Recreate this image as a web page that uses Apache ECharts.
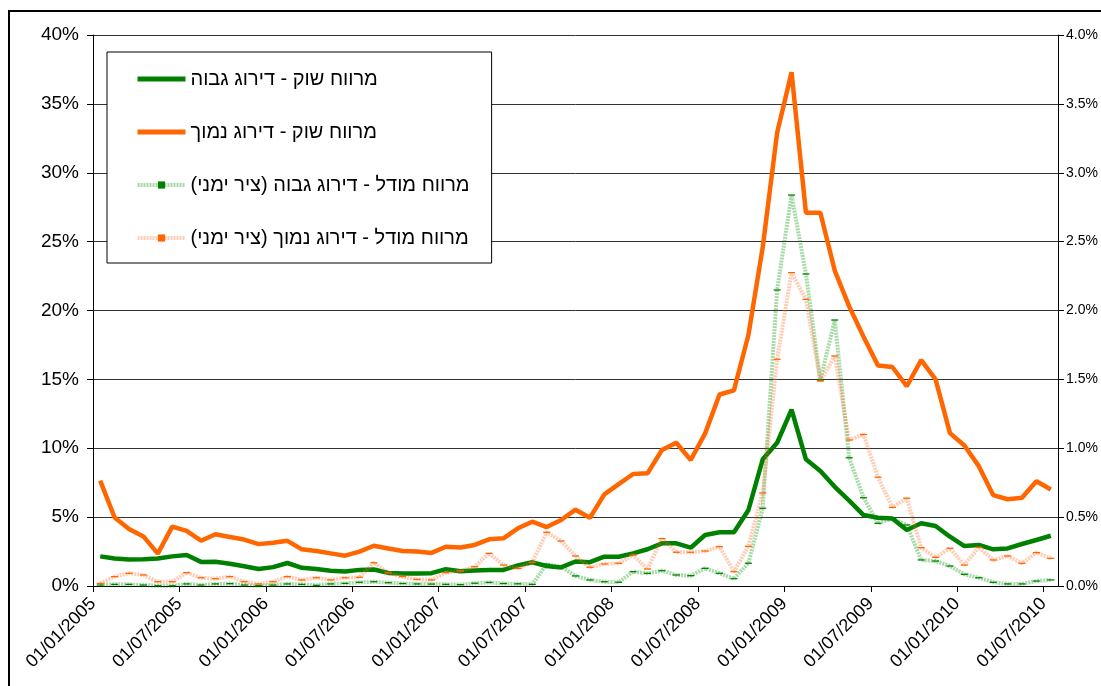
<!DOCTYPE html>
<html>
<head>
<meta charset="utf-8">
<script src="https://cdn.jsdelivr.net/npm/echarts@6/dist/echarts.min.js"></script>
<style>
  html, body { margin: 0; padding: 0; background: #fff; }
  #chart { width: 1101px; height: 686px; }
</style>
</head>
<body>
<div id="chart"></div>
<script>
// tick labels on the x axis, one every 6 months
const dateLabels = ['01/01/2005', '01/07/2005', '01/01/2006', '01/07/2006', '01/01/2007', '01/07/2007',
  '01/01/2008', '01/07/2008', '01/01/2009', '01/07/2009', '01/01/2010', '01/07/2010']

// monthly points, Jan 2005 .. Jul 2010 (values in %)
const marketHigh = [2.15, 2.0, 1.93, 1.95, 2.0, 2.15, 2.25, 1.75, 1.76, 1.62, 1.43, 1.24, 1.37, 1.67, 1.32, 1.23, 1.1, 1.05, 1.17, 1.2,
  0.95, 0.9, 0.9, 0.93, 1.22, 1.07, 1.12, 1.17, 1.17, 1.5, 1.72, 1.45, 1.35, 1.78, 1.73, 2.13, 2.12, 2.37, 2.67, 3.1,
  3.1, 2.78, 3.7, 3.9, 3.9, 5.5, 9.2, 10.4, 12.8, 9.2, 8.35, 7.2, 6.2, 5.15, 4.95, 4.9, 4.07, 4.55, 4.36, 3.58,
  2.9, 2.98, 2.66, 2.73, 3.05, 3.34, 3.65]
const marketLow = [7.65, 4.97, 4.13, 3.6, 2.35, 4.31, 4.0, 3.29, 3.76, 3.56, 3.37, 3.04, 3.14, 3.28, 2.66, 2.54, 2.37, 2.2, 2.49, 2.92,
  2.72, 2.54, 2.5, 2.4, 2.85, 2.8, 2.98, 3.39, 3.46, 4.19, 4.67, 4.28, 4.79, 5.54, 4.95, 6.65, 7.4, 8.13, 8.18, 9.87,
  10.4, 9.15, 11.08, 13.9, 14.2, 18.2, 24.6, 32.9, 37.3, 27.1, 27.1, 22.9, 20.3, 18.1, 16.0, 15.9, 14.5, 16.4, 15.0, 11.1,
  10.2, 8.7, 6.6, 6.3, 6.4, 7.6, 7.0]
// model spreads, right axis
const modelHigh = [0.007, 0.012, 0.012, 0.007, 0.002, 0.002, 0.015, 0.007, 0.015, 0.017, 0.007, 0.002, 0.007, 0.015, 0.012, 0.005, 0.015, 0.019, 0.027, 0.031,
  0.024, 0.018, 0.015, 0.014, 0.012, 0.01, 0.02, 0.026, 0.018, 0.016, 0.012, 0.158, 0.14, 0.073, 0.044, 0.031, 0.027, 0.104, 0.092, 0.111,
  0.08, 0.075, 0.128, 0.092, 0.053, 0.165, 0.564, 2.149, 2.838, 2.265, 1.495, 1.931, 0.931, 0.641, 0.455, 0.491, 0.443, 0.189, 0.181, 0.145,
  0.085, 0.06, 0.027, 0.015, 0.015, 0.036, 0.044]
const modelLow = [0.019, 0.068, 0.092, 0.08, 0.031, 0.031, 0.097, 0.06, 0.053, 0.068, 0.031, 0.015, 0.031, 0.068, 0.044, 0.06, 0.044, 0.06, 0.063, 0.169,
  0.095, 0.068, 0.048, 0.044, 0.097, 0.109, 0.14, 0.237, 0.152, 0.128, 0.172, 0.39, 0.327, 0.218, 0.136, 0.16, 0.165, 0.225, 0.123, 0.344,
  0.245, 0.245, 0.254, 0.285, 0.104, 0.288, 0.675, 1.646, 2.275, 2.081, 1.488, 1.67, 1.06, 1.1, 0.79, 0.571, 0.637, 0.278, 0.208, 0.274,
  0.152, 0.281, 0.189, 0.218, 0.165, 0.242, 0.201]

const names = [
  'מרווח שוק - דירוג גבוה',
  'מרווח שוק - דירוג נמוך',
  'מרווח מודל - דירוג גבוה (ציר ימני)\u200F',
  'מרווח מודל - דירוג נמוך (ציר ימני)\u200F',
]

const GREEN = '#008000'
const ORANGE = '#ff6600'
const FONT = '"Liberation Sans", Arial, sans-serif'
// small flat marker used on the model lines (and in their legend icons)
const MARK = 'path://M0,0 L7,0 L7,3 L0,3 Z'

// each month sits in the middle of its slot
const pts = (arr) => arr.map((v, i) => [i + 0.5, v])

const chart = echarts.init(document.getElementById('chart'))

const modelSeries = (name, data, light, dark) => ({
  name, type: 'line', yAxisIndex: 1, data: pts(data),
  symbol: MARK, symbolSize: [7, 3], symbolKeepAspect: true, showSymbol: true,
  itemStyle: { color: dark },
  lineStyle: { color: light, width: 4, type: [2, 1] },
  emphasis: { disabled: true },
})

chart.setOption({
  animation: false,
  textStyle: { fontFamily: FONT },
  grid: { left: 93, right: 43, top: 35, bottom: 100 },
  graphic: [{
    type: 'rect', shape: { x: 9, y: 11, width: 1120, height: 700 },
    style: { fill: 'none', stroke: '#000', lineWidth: 2 }, silent: true,
  }],
  legend: {
    orient: 'vertical', left: 107, top: 52,
    padding: [17, 22, 15, 28], itemGap: 33,
    itemWidth: 48, itemHeight: 9,
    backgroundColor: '#fff', borderColor: '#000', borderWidth: 1,
    textStyle: { fontSize: 20, color: '#000', fontFamily: FONT },
    data: [
      { name: names[0], itemStyle: { opacity: 0 }, lineStyle: { width: 5 } },
      { name: names[1], itemStyle: { opacity: 0 }, lineStyle: { width: 5 } },
      { name: names[2], lineStyle: { width: 4 } },
      { name: names[3], lineStyle: { width: 4 } },
    ],
  },
  xAxis: {
    type: 'value', min: 0, max: 67, interval: 6,
    axisLine: { lineStyle: { color: '#000' } },
    axisTick: { length: 6, lineStyle: { color: '#000' } },
    splitLine: { show: false },
    axisLabel: {
      rotate: 45, margin: 15, fontSize: 18, color: '#000', showMaxLabel: false,
      formatter: (v) => (v % 6 === 0 ? dateLabels[v / 6] : ''),
    },
  },
  yAxis: [
    {
      type: 'value', min: 0, max: 40, interval: 5,
      axisLine: { show: true, lineStyle: { color: '#000' } },
      axisTick: { show: true, length: 6, lineStyle: { color: '#000' } },
      splitLine: { lineStyle: { color: '#333' } },
      axisLabel: { fontSize: 19, color: '#000', margin: 14, formatter: (v) => v + '%' },
    },
    {
      type: 'value', min: 0, max: 4, interval: 0.5, position: 'right',
      axisLine: { show: true, lineStyle: { color: '#000' } },
      axisTick: { show: true, length: 6, lineStyle: { color: '#000' } },
      splitLine: { show: false },
      axisLabel: { fontSize: 14, color: '#000', margin: 8, formatter: (v) => v.toFixed(1) + '%' },
    },
  ],
  series: [
    { name: names[0], type: 'line', data: pts(marketHigh), symbol: 'none',
      lineStyle: { color: GREEN, width: 4.5 }, itemStyle: { color: GREEN }, z: 3 },
    { name: names[1], type: 'line', data: pts(marketLow), symbol: 'none',
      lineStyle: { color: ORANGE, width: 4.5 }, itemStyle: { color: ORANGE }, z: 3 },
    modelSeries(names[2], modelHigh, 'rgba(0,150,0,0.35)', GREEN),
    modelSeries(names[3], modelLow, 'rgba(255,110,40,0.35)', ORANGE),
  ],
})
</script>
</body>
</html>
